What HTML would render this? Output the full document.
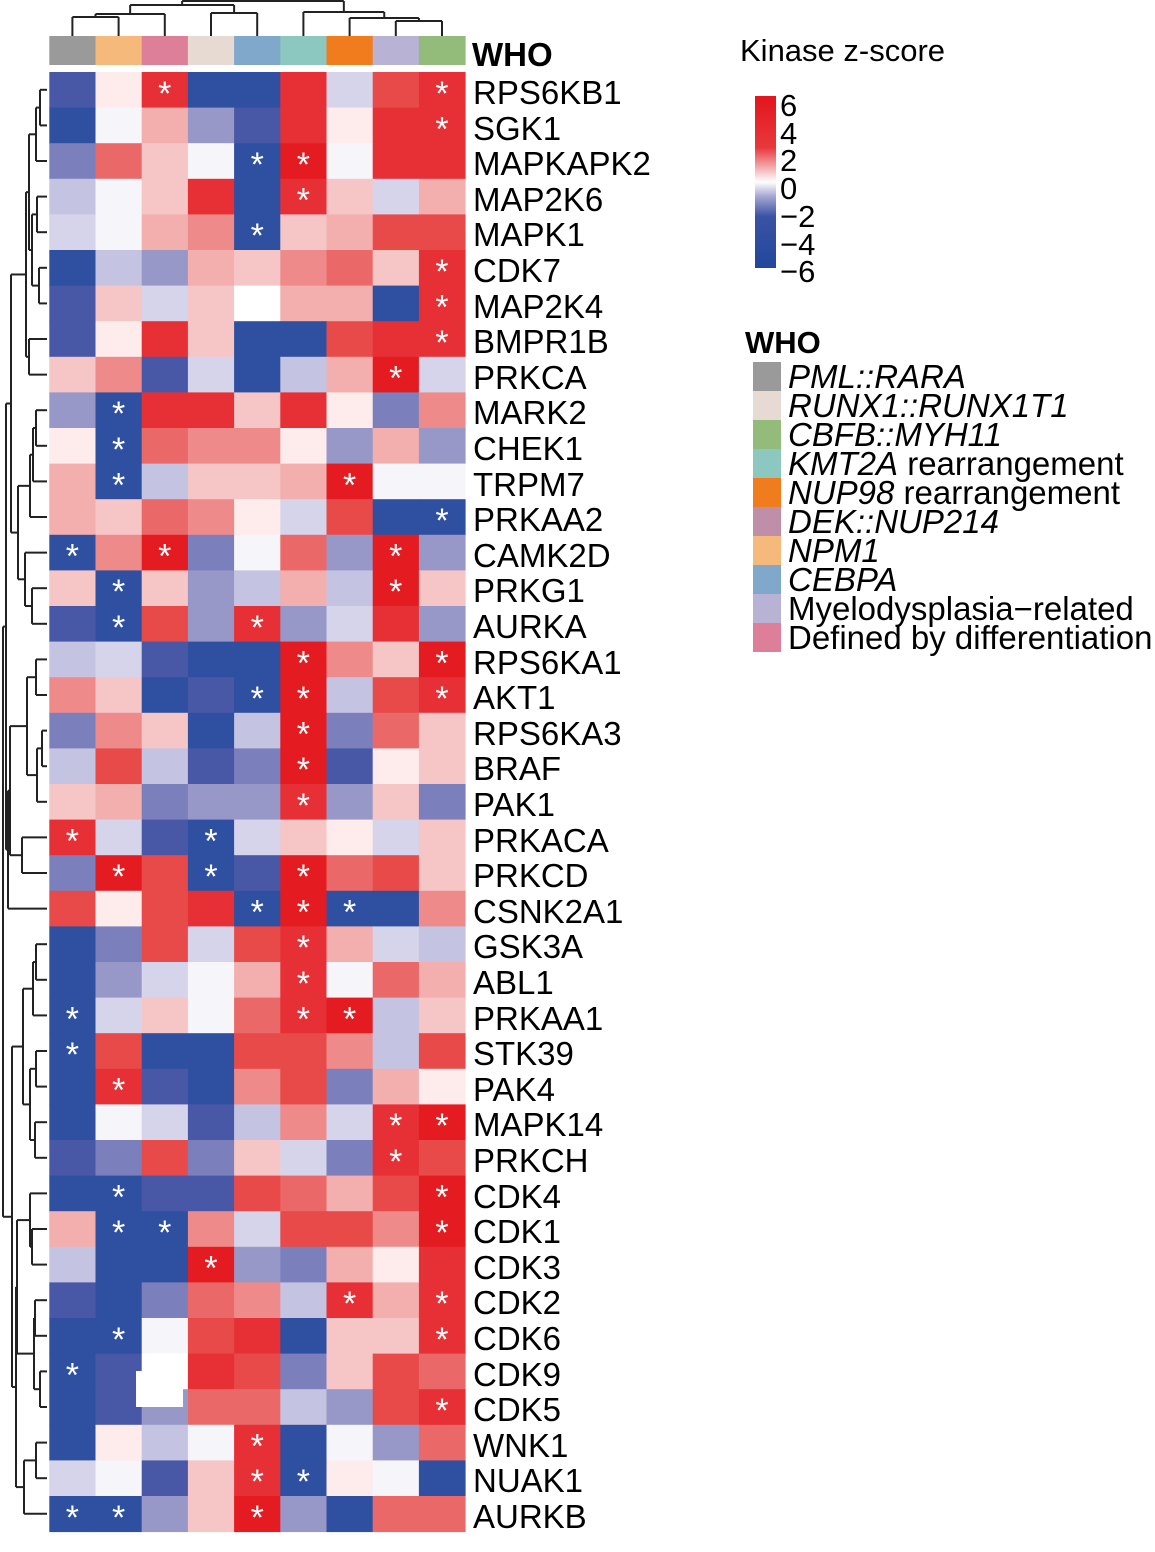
<!DOCTYPE html>
<html><head><meta charset="utf-8"><style>
html,body{margin:0;padding:0;background:#fff;}
svg{display:block;font-family:"Liberation Sans",Arial,sans-serif;}
</style></head><body>
<svg id="s" width="1155" height="1552" viewBox="0 0 1155 1552" xmlns="http://www.w3.org/2000/svg">
<defs>
<linearGradient id="cb" x1="0" y1="0" x2="0" y2="1">
<stop offset="0" stop-color="#e3151d"/>
<stop offset="0.3" stop-color="#e8383c"/>
<stop offset="0.42" stop-color="#f3b0b2"/>
<stop offset="0.5" stop-color="#ffffff"/>
<stop offset="0.58" stop-color="#a9aad3"/>
<stop offset="0.7" stop-color="#3a53a3"/>
<stop offset="1" stop-color="#21479c"/>
</linearGradient>
</defs>
<g id="cells"></g>
<g id="dend" stroke="#222" stroke-width="2" fill="none"></g>
<g font-size="33" fill="#000" transform="translate(0,2)">
<text x="472" y="64" font-weight="bold">WHO</text>
<text x="473" y="102">RPS6KB1</text>
<text x="473" y="138">SGK1</text>
<text x="473" y="173">MAPKAPK2</text>
<text x="473" y="209">MAP2K6</text>
<text x="473" y="244">MAPK1</text>
<text x="473" y="280">CDK7</text>
<text x="473" y="316">MAP2K4</text>
<text x="473" y="351">BMPR1B</text>
<text x="473" y="387">PRKCA</text>
<text x="473" y="422">MARK2</text>
<text x="473" y="458">CHEK1</text>
<text x="473" y="494">TRPM7</text>
<text x="473" y="529">PRKAA2</text>
<text x="473" y="565">CAMK2D</text>
<text x="473" y="600">PRKG1</text>
<text x="473" y="636">AURKA</text>
<text x="473" y="672">RPS6KA1</text>
<text x="473" y="707">AKT1</text>
<text x="473" y="743">RPS6KA3</text>
<text x="473" y="778">BRAF</text>
<text x="473" y="814">PAK1</text>
<text x="473" y="850">PRKACA</text>
<text x="473" y="885">PRKCD</text>
<text x="473" y="921">CSNK2A1</text>
<text x="473" y="956">GSK3A</text>
<text x="473" y="992">ABL1</text>
<text x="473" y="1028">PRKAA1</text>
<text x="473" y="1063">STK39</text>
<text x="473" y="1099">PAK4</text>
<text x="473" y="1134">MAPK14</text>
<text x="473" y="1170">PRKCH</text>
<text x="473" y="1206">CDK4</text>
<text x="473" y="1241">CDK1</text>
<text x="473" y="1277">CDK3</text>
<text x="473" y="1312">CDK2</text>
<text x="473" y="1348">CDK6</text>
<text x="473" y="1384">CDK9</text>
<text x="473" y="1419">CDK5</text>
<text x="473" y="1455">WNK1</text>
<text x="473" y="1490">NUAK1</text>
<text x="473" y="1526">AURKB</text>
</g>
<g fill="#000">
<text x="740" y="61" font-size="31">Kinase z-score</text>
<rect x="755" y="96" width="21" height="172" fill="url(#cb)"/>
<g font-size="31">
<text x="780" y="116">6</text>
<text x="780" y="144">4</text>
<text x="780" y="171">2</text>
<text x="780" y="199">0</text>
<text x="780" y="227">−2</text>
<text x="780" y="255">−4</text>
<text x="780" y="282">−6</text>
</g>
<text x="745" y="353" font-size="31" font-weight="bold">WHO</text>
<rect x="753" y="362" width="28" height="29" fill="#9a9a9a"/>
<rect x="753" y="391" width="28" height="29" fill="#e6dad2"/>
<rect x="753" y="420" width="28" height="29" fill="#93bb79"/>
<rect x="753" y="449" width="28" height="29" fill="#8cc8bf"/>
<rect x="753" y="478" width="28" height="29" fill="#f07c1e"/>
<rect x="753" y="507" width="28" height="29" fill="#bf8faa"/>
<rect x="753" y="536" width="28" height="29" fill="#f6b97c"/>
<rect x="753" y="565" width="28" height="29" fill="#7fa8ca"/>
<rect x="753" y="594" width="28" height="29" fill="#b8b2d4"/>
<rect x="753" y="623" width="28" height="29" fill="#de7f9a"/>
<g font-size="33">
<text x="788" y="388" font-style="italic">PML::RARA</text>
<text x="788" y="417" font-style="italic">RUNX1::RUNX1T1</text>
<text x="788" y="446" font-style="italic">CBFB::MYH11</text>
<text x="788" y="475"><tspan font-style="italic">KMT2A</tspan> rearrangement</text>
<text x="788" y="504"><tspan font-style="italic">NUP98</tspan> rearrangement</text>
<text x="788" y="533" font-style="italic">DEK::NUP214</text>
<text x="788" y="562" font-style="italic">NPM1</text>
<text x="788" y="591" font-style="italic">CEBPA</text>
<text x="788" y="620">Myelodysplasia−related</text>
<text x="788" y="649">Defined by differentiation</text>
</g>
</g>
</svg>
<script>
(function(){
var NS="http://www.w3.org/2000/svg";
var pal={B:"#2f50a0",D:"#4858a6",M:"#7b80bc",N:"#9898c8",L:"#c4c4e2",V:"#d6d4ea",W:"#f6f5fa",w:"#fdeceb",p:"#f6c5c6",q:"#f3aeae",P:"#ef8a8a",o:"#eb6868",r:"#e84a4a",R:"#e73035",X:"#e41c22",Z:"#ffffff"};
var rows=[
"D w R* B B R V r R*",
"B W q N D R w R R*",
"M o p W B* X* W R R",
"L W p R B R* p V q",
"V W q P B* p q r r",
"B L N q p P o p R*",
"D p V p Z q q B R*",
"D w R p B B r R R*",
"p P D V B L q X* V",
"N B* R R p R w M P",
"w B* o P P w N q N",
"q B* L p p q X* W W",
"q p o P w V r B B*",
"B* P X* M W o N X* N",
"p B* p N L q L X* p",
"D B* r N R* N V R N",
"L V D B B X* P p X*",
"P p B D B* X* L r R*",
"M P p B L X* M o p",
"L r L D M X* D w p",
"p q M N N R* N p M",
"R* V D B* V p w V p",
"M X* r B* D X* o r p",
"r w r R B* X* B* B P",
"B M r V r R* q V L",
"B N V W q R* W o q",
"B* V p W o R* X* L p",
"B* r B B r r P L r",
"B R* D B P r M q w",
"B W V D L P V R* X*",
"D M r M p V M R* r",
"B B* D D r o q r X*",
"q B* B* P V r r P X*",
"L B B X* N M q w R",
"D B M o P L R* q R*",
"B B* W r R B p p R*",
"B* D Z R r M p r o",
"B D N o o L N r R*",
"B w L W R* B W N o",
"V W D p R* B* w W B",
"B* B* N p X* N B o o"];
var x0=49.3,cw=46.2,y0=72,rh=35.6;
var g=document.getElementById("cells");
function rect(x,y,w,h,f){var r=document.createElementNS(NS,"rect");r.setAttribute("x",x);r.setAttribute("y",y);r.setAttribute("width",w);r.setAttribute("height",h);r.setAttribute("fill",f);g.appendChild(r);}
function star(cx,cy){var t=document.createElementNS(NS,"text");t.setAttribute("x",cx);t.setAttribute("y",cy+15);t.setAttribute("text-anchor","middle");t.setAttribute("font-size","34");t.setAttribute("fill","#fff");t.textContent="*";g.appendChild(t);}
var top=["#9a9a9a","#f6b97c","#de7f9a","#e6dad2","#7fa8ca","#8cc8bf","#f07c1e","#b8b2d4","#93bb79"];
for(var j=0;j<9;j++)rect(x0+j*cw,36,cw+0.5,29,top[j]);
var stars=[];
for(var i=0;i<rows.length;i++){var c=rows[i].split(" ");for(var j=0;j<9;j++){var k=c[j];rect(x0+j*cw,y0+i*rh,cw+0.5,rh+0.5,pal[k[0]]);if(k.length>1)stars.push([x0+(j+.5)*cw,y0+(i+.5)*rh]);}}
rect(136,1371,47,36,"#ffffff");
stars.forEach(function(s){star(s[0],s[1]);});
var d=document.getElementById("dend");
function ln(x1,y1,x2,y2){var l=document.createElementNS(NS,"line");l.setAttribute("x1",x1);l.setAttribute("y1",y1);l.setAttribute("x2",x2);l.setAttribute("y2",y2);d.appendChild(l);}
function cx(j){return x0+(j+.5)*cw;}
function cnode(a,b,y){ln(a[0],a[1],a[0],y);ln(b[0],b[1],b[0],y);ln(a[0],y,b[0],y);return[(a[0]+b[0])/2,y];}
function leaf(j){return[cx(j),36];}
var n12=cnode(leaf(0),leaf(1),17);
var n123=cnode(n12,leaf(2),14);
var n45=cnode(leaf(3),leaf(4),13);
var L=cnode(n123,n45,5);
var n89=cnode(leaf(7),leaf(8),21);
var n789=cnode(leaf(6),n89,18);
var R=cnode(leaf(5),n789,12);
cnode(L,R,1);
function ry(i){return y0+(i+.5)*rh;}
function rn(t){if(typeof t==="number")return[47,ry(t)];var a=rn(t[0]),b=rn(t[1]),x=t[2];ln(a[0],a[1],x,a[1]);ln(b[0],b[1],x,b[1]);ln(x,a[1],x,b[1]);return[x,(a[1]+b[1])/2];}
var a1=[[[0,1,40],2,36],[[3,4,37],[5,6,39],32],29];
var a=[a1,[7,8,29],26];
var b=[[[[9,10,36],11,33],12,30],[13,[14,15,32],25],18];
var AB=[a,b,11];
var c=[[16,17,36],[[18,19,42],20,37],27];
var cd=[[c,[21,22,22],10],23,8];
var e=[[[24,25,36],26,33],[[27,28,36],[29,30,35],30],23];
var f=[[[31,[32,33,32],30],[[34,35,35],[36,37,40],34],17],[[38,39,36],40,24],16];
rn([[AB,cd,6],[e,f,12],3]);
})();
</script>
</body></html>
